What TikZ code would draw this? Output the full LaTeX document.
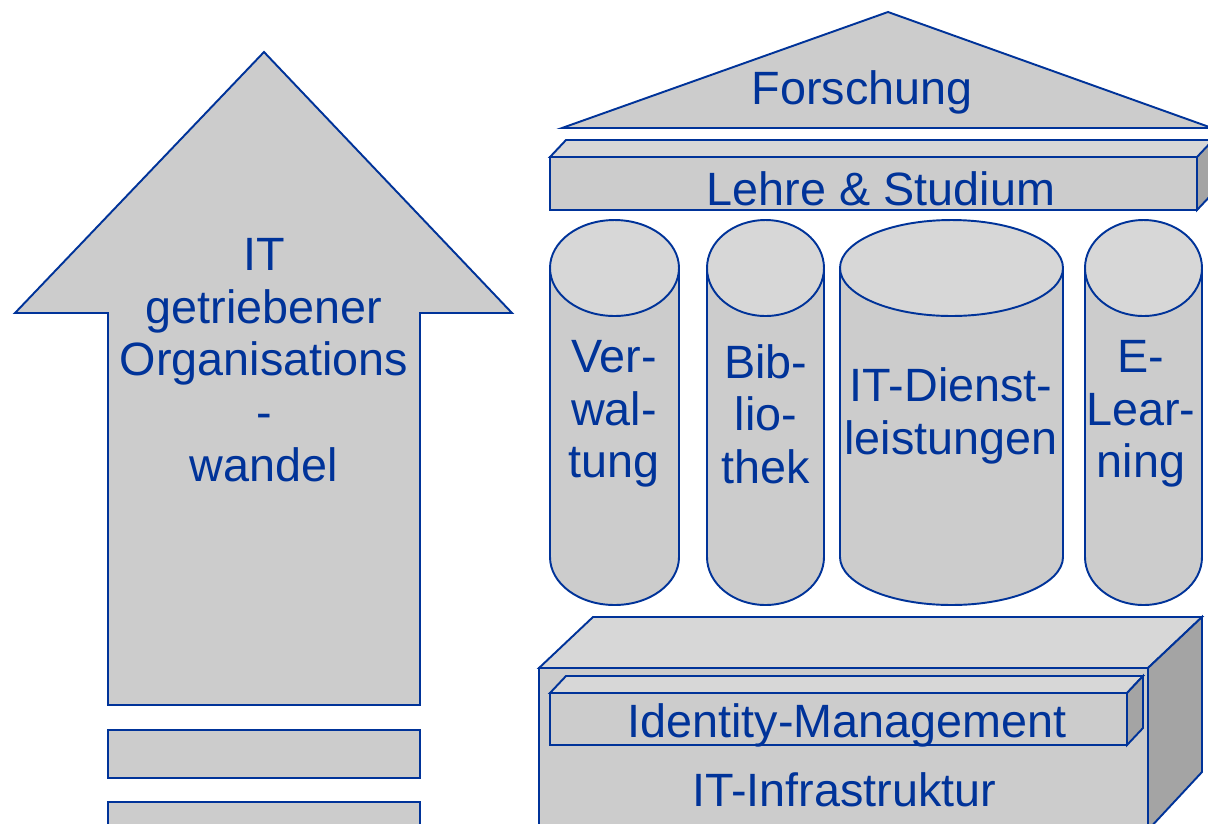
\documentclass[tikz,border=0pt]{standalone}
\usepackage{fontspec}
\setmainfont{Liberation Sans}
\definecolor{edge}{RGB}{0,51,153}
\definecolor{ink}{RGB}{0,51,153}
\definecolor{front}{RGB}{204,204,204}
\definecolor{topface}{RGB}{215,215,215}
\definecolor{sideface}{RGB}{164,164,164}
\tikzset{
  outline/.style={draw=edge, line width=1.1pt, line join=miter},
  frontface/.style={outline, fill=front},
  upperface/.style={outline, fill=topface},
  rightface/.style={outline, fill=sideface},
  label/.style={text=ink, font=\fontsize{26.6}{30}\selectfont, align=center, inner sep=0pt},
}
% cylinder: left x, right x (in px units)
\newcommand\drawcyl[2]{%
  \pgfmathsetmacro\cylcx{(#1+#2)/2}%
  \pgfmathsetmacro\cylrx{(#2-#1)/2*0.02}%
  \filldraw[frontface] (#1,268) -- (#1,557)
    arc[start angle=180, end angle=360, x radius=\cylrx cm, y radius=0.96cm]
    -- (#2,268) -- cycle;
  \filldraw[upperface] (\cylcx,268) ellipse[x radius=\cylrx cm, y radius=0.96cm];
}
\begin{document}
\begin{tikzpicture}[x=0.02cm, y=-0.02cm]
\useasboundingbox (0,0) rectangle (1208,823);
\clip (0,0) rectangle (1208,823);

% large arrow on the left
\filldraw[frontface] (264,52) -- (512,313) -- (420,313) -- (420,705)
  -- (108,705) -- (108,313) -- (15,313) -- cycle;
\filldraw[frontface] (108,730) rectangle (420,778);
\filldraw[frontface] (108,802) rectangle (420,840);
\node[label] (wandel) at (264,360) {IT\\getriebener\\Organisations\\-\\wandel};

% roof
\filldraw[frontface] (562,128) -- (888,12) -- (1212,128) -- cycle;
\node[label, anchor=base] (forschung) at (862,104) {Forschung};

% beam
\filldraw[upperface] (550,157) -- (566,140) -- (1215,140) -- (1199,157) -- cycle;
\filldraw[rightface] (1197,157) -- (1213,140) -- (1213,193) -- (1197,210) -- cycle;
\filldraw[frontface] (550,157) rectangle (1197,210);
\node[label, anchor=base] (lehre) at (881,205) {Lehre \& Studium};

% pillars
\drawcyl{550}{679}
\drawcyl{707}{824}
\drawcyl{840}{1063}
\drawcyl{1085}{1202}
\node[label] (verw) at (614,414) {Ver-\\wal-\\tung};
\node[label] (bib) at (766,414) {Bib-\\lio-\\thek};
\node[label] (itd) at (951,416) {IT-Dienst-\\leistungen};
\node[label] (elearn) at (1141,414) {E-\\Lear-\\ning};

% foundation block
\filldraw[upperface] (539,668) -- (593,617) -- (1202,617) -- (1148,668) -- cycle;
\filldraw[rightface] (1148,668) -- (1202,617) -- (1202,772) -- (1148,830) -- cycle;
\filldraw[frontface] (539,668) rectangle (1148,840);

% identity management bar
\filldraw[upperface] (550,693) -- (566,676) -- (1143,676) -- (1127,693) -- cycle;
\filldraw[rightface] (1127,693) -- (1143,676) -- (1143,728) -- (1127,745) -- cycle;
\filldraw[frontface] (550,693) rectangle (1127,745);
\node[label, anchor=base] (idm) at (847,737) {Identity-Management};
\node[label, anchor=base] (infra) at (844,806) {IT-Infrastruktur};
\end{tikzpicture}
\end{document}
